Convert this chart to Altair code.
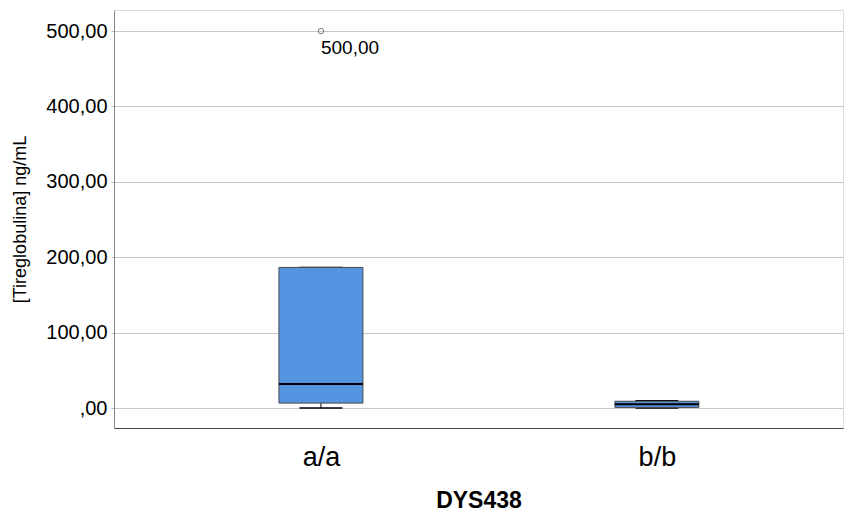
import altair as alt
import pandas as pd

# Summary statistics of thyroglobulin per DYS438 genotype
groups = ["a/a", "b/b"]
positions = [1, 2]
w_low = [0.0, 0.0]
q1 = [6.5, 0.8]
median = [32.0, 5.0]
q3 = [186.5, 9.0]
w_high = [186.5, 9.5]

outlier_group = ["a/a"]
outlier_pos = [1]
outlier_val = [500.0]

box_half = 0.125
cap_half = 0.064

stats = pd.DataFrame({
    "grupo": groups, "pos": positions, "lo": w_low, "q1": q1,
    "med": median, "q3": q3, "hi": w_high,
})
outl = pd.DataFrame({"grupo": outlier_group, "pos": outlier_pos, "val": outlier_val})

xscale = alt.Scale(domain=[0.384, 2.554], nice=False, zero=False)
yscale = alt.Scale(domain=[-26.5, 528], nice=False, zero=False)

x_axis = alt.Axis(
    values=positions, labelExpr="datum.value == 1 ? 'a/a' : 'b/b'",
    title="DYS438", titleFont="Liberation Sans", titleFontSize=23, titleFontWeight="bold",
    titleColor="#000", titlePadding=19, labelFont="Liberation Sans", labelFontSize=27,
    labelColor="#000", labelPadding=16, ticks=False, grid=False,
    domainColor="#444", domainWidth=1,
)
y_axis = alt.Axis(
    values=[0, 100, 200, 300, 400, 500],
    labelExpr="datum.value == 0 ? ',00' : replace(format(datum.value, '.2f'), '.', ',')",
    title="[Tireglobulina] ng/mL", titleFont="Liberation Sans", titleFontSize=18,
    titleFontWeight="normal", titleColor="#000", titlePadding=16,
    labelFont="Liberation Sans", labelFontSize=20, labelColor="#000", labelPadding=4,
    tickSize=3, tickColor="#bbb", grid=True, gridColor="#c8c8c8", gridWidth=1.2,
    domainColor="#888", domainWidth=1,
)

base = alt.Chart(stats).transform_calculate(
    xl=f"datum.pos - {box_half}", xr=f"datum.pos + {box_half}",
    cl=f"datum.pos - {cap_half}", cr=f"datum.pos + {cap_half}",
)

axes_layer = alt.Chart(stats).mark_point(opacity=0).encode(
    x=alt.X("pos:Q", scale=xscale, axis=x_axis),
    y=alt.Y("med:Q", scale=yscale, axis=y_axis),
)

whisk_low = base.mark_rule(color="#000", strokeWidth=1).encode(
    x=alt.X("pos:Q", scale=xscale), y=alt.Y("lo:Q", scale=yscale), y2="q1:Q")
whisk_high = base.mark_rule(color="#000", strokeWidth=1).encode(
    x=alt.X("pos:Q", scale=xscale), y=alt.Y("q3:Q", scale=yscale), y2="hi:Q")
cap_low = base.mark_rule(color="#000", strokeWidth=1.5).encode(
    x=alt.X("cl:Q", scale=xscale), x2="cr:Q", y=alt.Y("lo:Q", scale=yscale))
cap_high = base.mark_rule(color="#000", strokeWidth=1.5).encode(
    x=alt.X("cl:Q", scale=xscale), x2="cr:Q", y=alt.Y("hi:Q", scale=yscale))
box = base.mark_rect(fill="#5694e2", stroke="#4a4a4a", strokeWidth=1).encode(
    x=alt.X("xl:Q", scale=xscale), x2="xr:Q",
    y=alt.Y("q1:Q", scale=yscale), y2="q3:Q")
med = base.mark_rule(color="#000", strokeWidth=2).encode(
    x=alt.X("xl:Q", scale=xscale), x2="xr:Q", y=alt.Y("med:Q", scale=yscale))

out_pt = alt.Chart(outl).mark_point(shape="circle", filled=False, color="#444",
                                    size=30, strokeWidth=1).encode(
    x=alt.X("pos:Q", scale=xscale), y=alt.Y("val:Q", scale=yscale))
out_txt = alt.Chart(outl).transform_calculate(
    lab="replace(format(datum.val, '.2f'), '.', ',')"
).mark_text(align="left", baseline="middle", dx=0, dy=17, font="Liberation Sans",
            fontSize=19, color="#000").encode(
    x=alt.X("pos:Q", scale=xscale), y=alt.Y("val:Q", scale=yscale), text="lab:N")

chart = alt.layer(axes_layer, whisk_low, whisk_high, cap_low, cap_high, box, med,
                  out_pt, out_txt).properties(
    width=729, height=418, autosize="none",
    padding={"left": 114, "top": 10, "right": 10, "bottom": 87},
).configure_view(stroke=None).configure(background="white")

chart.save("out.html", embed_options={"renderer": "svg", "actions": False})
